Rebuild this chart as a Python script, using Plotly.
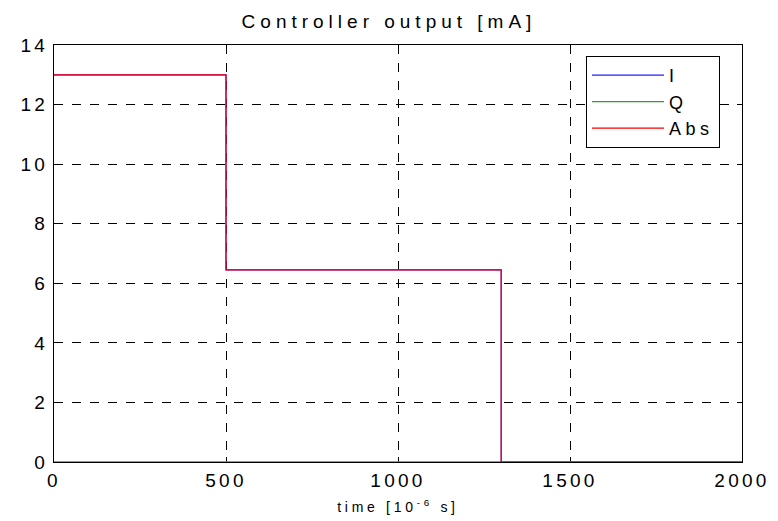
import plotly.graph_objects as go

# Controller output, step response samples (time in microseconds, current in mA)
time_us = [0, 500, 500, 1300, 1300, 2000]
i_out = [13.0, 13.0, 6.45, 6.45, 0.0, 0.0]
q_out = [0.0, 0.0, 0.0, 0.0, 0.0, 0.0]
abs_out = [13.0, 13.0, 6.45, 6.45, 0.0, 0.0]

x_ticks = [0, 500, 1000, 1500, 2000]
y_ticks = [0, 2, 4, 6, 8, 10, 12, 14]

FONT = "Arial, Liberation Sans, Helvetica, sans-serif"

fig = go.Figure()
fig.add_trace(go.Scatter(x=time_us, y=i_out, mode="lines", name="I",
                         line=dict(color="#1f1fff", width=1.2)))
fig.add_trace(go.Scatter(x=time_us, y=q_out, mode="lines", name="Q",
                         line=dict(color="#2ca02c", width=1.4)))
fig.add_trace(go.Scatter(x=time_us, y=abs_out, mode="lines", name="Abs",
                         line=dict(color="#ff0000", width=1.2)))

axis_common = dict(
    showline=True, linecolor="black", linewidth=1, mirror="ticks",
    ticks="inside", ticklen=5, tickcolor="black", layer="below traces",
    showgrid=True, gridcolor="black", griddash="dash", gridwidth=1,
    zeroline=False, automargin=False,
    tickfont=dict(family=FONT, size=19, color="black"),
)

fig.update_layout(
    width=778, height=521,
    margin=dict(l=54, r=36, t=45, b=59),
    paper_bgcolor="white", plot_bgcolor="white",
    title=dict(text="Controller output [mA]", x=0.5, xanchor="center",
               y=1 - 21 / 521, yanchor="middle",
               font=dict(family=FONT, size=19, color="black")),
    xaxis=dict(range=[0, 2000], tickvals=x_ticks, ticklabelstandoff=1, **axis_common,
               title=dict(text="time [10<sup>-6</sup> s]", standoff=12,
                          font=dict(family=FONT, size=14, color="black"))),
    yaxis=dict(range=[0, 14], tickvals=y_ticks, ticklabelstandoff=1, **axis_common),
    legend=dict(x=0.968, y=0.9736, xanchor="right", yanchor="top",
                bgcolor="white", bordercolor="black", borderwidth=1,
                font=dict(family=FONT, size=18, color="black"),
                itemwidth=72, tracegroupgap=0),
    showlegend=True,
)

# Wide character spacing for the text labels; the legend is re-laid out
# afterwards so its box is sized with the spacing applied.
spacing_js = """
var s = document.createElement('style');
s.textContent = '.gtitle{letter-spacing:5px}' +
  '.xtick text,.ytick text{letter-spacing:3.3px}' +
  '.legendtext{letter-spacing:4.5px}' +
  '.xtitle{letter-spacing:3.7px}';
document.head.appendChild(s);
var gd = document.getElementById('{plot_id}');
Plotly.relayout(gd, {'legend.font.size': 18.01});
"""

fig.write_html("out.html", post_script=spacing_js)
